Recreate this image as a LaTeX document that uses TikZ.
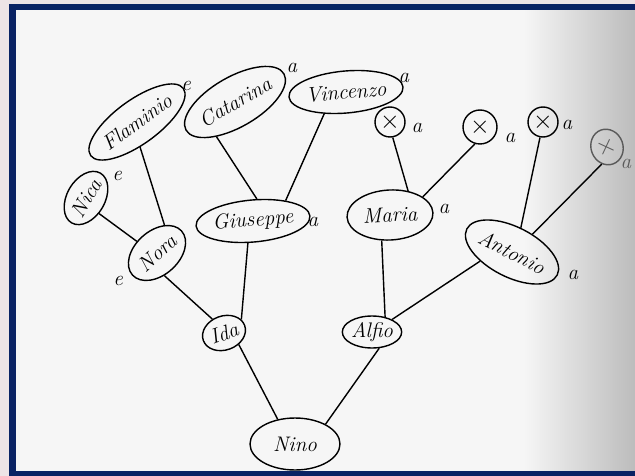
\documentclass[tikz,border=0pt]{standalone}
\usepackage{tikz}
\usetikzlibrary{shapes.geometric}
\definecolor{frameColor}{RGB}{10,35,100}
\definecolor{paperColor}{RGB}{246,246,246}
\definecolor{shadowColor}{RGB}{188,188,188}
\definecolor{wallColor}{RGB}{238,228,230}
\definecolor{fadedInk}{RGB}{90,90,90}
% tikz fits the middle 25bp..75bp of a shading onto the path
\pgfdeclarehorizontalshading{pageShade}{100bp}{color(0bp)=(paperColor); color(66bp)=(paperColor); color(75bp)=(shadowColor); color(100bp)=(shadowColor)}
\tikzstyle{sheet} = [x = 0.02cm, y = -0.02cm]
\tikzstyle{personStyle} = [ellipse, draw, line width = .8pt, inner sep = 0pt, font = \large\itshape]
\tikzstyle{unknownStyle} = [ellipse, draw, line width = .8pt, inner sep = 0pt, font = \Large]
\tikzstyle{markText} = [font = \large\itshape, inner sep = 0pt]
\tikzstyle{kinLine} = [line width = .8pt]
\newcommand{\pxUnit}{1.138pt}
\newcommand{\personNode}[7]{\node [personStyle, rotate = #4, minimum width = #5*\pxUnit, minimum height = #6*\pxUnit] (#1) at (#2, #3) {#7};}
\newcommand{\unknownNode}[5]{\node [unknownStyle, minimum width = #4*\pxUnit, minimum height = #5*\pxUnit] (#1) at (#2, #3) {$\times$};}
\newcommand{\markNode}[4]{\node [markText] (#1) at (#2, #3) {#4};}

\begin{document}
\begin{tikzpicture}[sheet]
  % photo frame
  \fill [wallColor] (0,0) rectangle (635,476);
  \fill [frameColor] (9,4) rectangle (635,476);
  \shade [shading = pageShade] (16,11) rectangle (635,470);
  \useasboundingbox (0,0) rectangle (635,476);

  % people
  \personNode{flaminio}{137}{122}{36}{48}{22}{Flaminio}
  \personNode{catarina}{235}{102}{30}{50}{25}{Catarina}
  \personNode{vincenzo}{346}{92}{5}{45}{21}{Vincenzo}
  \personNode{nica}{86}{198}{60}{28}{19}{Nica}
  \personNode{nora}{157}{253}{42}{33}{22}{Nora}
  \personNode{giuseppe}{253}{221}{5}{49}{21}{Giuseppe}
  \personNode{maria}{390}{215}{3}{43}{25}{Maria}
  \personNode{antonio}{512}{252}{-27}{50}{25}{Antonio}
  \personNode{ida}{224}{333}{20}{22}{17}{Ida}
  \personNode{alfio}{372}{332}{0}{25}{16}{Alfio}
  \personNode{nino}{295}{444}{0}{45}{26}{Nino}
  \unknownNode{xOne}{390}{122}{15}{15}
  \unknownNode{xTwo}{480}{127}{17}{17}
  \unknownNode{xThree}{543}{122}{15}{15}
  \node [unknownStyle, draw = fadedInk, text = fadedInk, rotate = 20, minimum width = 16*\pxUnit, minimum height = 18*\pxUnit] (xFour) at (607,147) {$\times$};

  % a / e marks
  \markNode{flaminioMark}{186}{86}{e}
  \markNode{catarinaMark}{292}{68}{a}
  \markNode{vincenzoMark}{404}{78}{a}
  \markNode{nicaMark}{117}{176}{e}
  \markNode{noraMark}{118}{281}{e}
  \markNode{giuseppeMark}{313}{222}{a}
  \markNode{mariaMark}{444}{209}{a}
  \markNode{antonioMark}{573}{275}{a}
  \markNode{xOneMark}{417}{128}{a}
  \markNode{xTwoMark}{510}{138}{a}
  \markNode{xThreeMark}{567}{125}{a}
  \node [markText, text = fadedInk] (xFourMark) at (626,164) {a};

  % lines
  \draw [kinLine] (flaminio.-119) -- (nora.33);
  \draw [kinLine] (nica.-110) -- (nora.108);
  \draw [kinLine] (catarina.-148) -- (giuseppe.75);
  \draw [kinLine] (vincenzo.-140) -- (giuseppe.27);
  \draw [kinLine] (nora.-114) -- (ida.110);
  \draw [kinLine] (giuseppe.-108) -- (ida.18);
  \draw [kinLine] (xOne.-80) -- (maria.50);
  \draw [kinLine] (xTwo.-107) -- (maria.26);
  \draw [kinLine] (maria.-111) -- (alfio.49);
  \draw [kinLine] (xThree.-101) -- (antonio.97);
  \draw [kinLine] (xFour.-127) -- (antonio.68);
  \draw [kinLine] (antonio.-137) -- (alfio.32);
  \draw [kinLine] (ida.-58) -- (nino.125);
  \draw [kinLine] (alfio.-66) -- (nino.33);
\end{tikzpicture}
\end{document}
